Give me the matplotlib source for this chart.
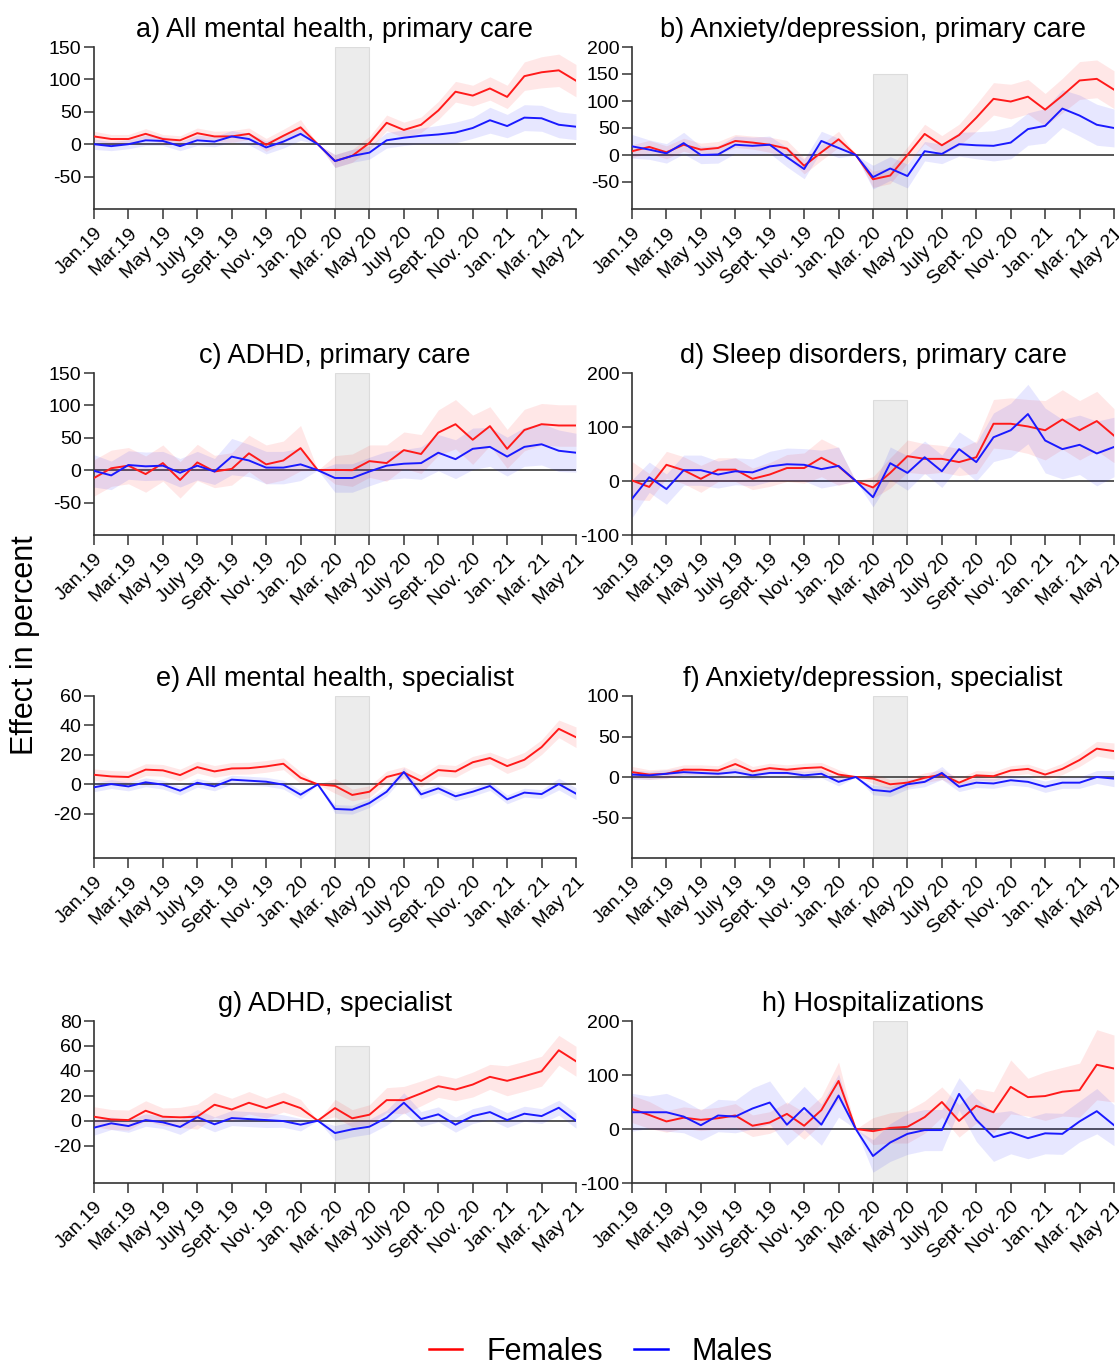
import matplotlib
matplotlib.use("Agg")
import matplotlib.pyplot as plt
import numpy as np
from matplotlib.lines import Line2D

plt.rcParams['font.family'] = ['Liberation Sans', 'DejaVu Sans']
plt.rcParams['axes.unicode_minus'] = False

# months Jan 2019 .. May 2021 (index 0..28)
tick_labels = ["Jan.19", "Mar.19", "May 19", "July 19", "Sept. 19", "Nov. 19",
               "Jan. 20", "Mar. 20", "May 20", "July 20", "Sept. 20", "Nov. 20",
               "Jan. 21", "Mar. 21", "May 21"]

titles = ["a) All mental health, primary care", "b) Anxiety/depression, primary care",
          "c) ADHD, primary care", "d) Sleep disorders, primary care",
          "e) All mental health, specialist", "f) Anxiety/depression, specialist",
          "g) ADHD, specialist", "h) Hospitalizations"]

# a) All mental health, primary care
fem_a = [12, 8, 8, 16, 8, 6, 17, 12, 12, 16, -1, 13, 26, 0, -26, -18, 2, 33, 22, 30, 52, 81, 75, 86, 73, 105, 111, 114, 98]
fem_a_ci = [8, 7, 7, 8, 7, 7, 8, 8, 9, 9, 10, 10, 12, 0, 10, 10, 10, 12, 12, 12, 14, 16, 16, 18, 18, 22, 24, 25, 25]
mal_a = [0, -3, 0, 6, 5, -3, 6, 4, 12, 8, -5, 4, 16, 0, -26, -18, -13, 6, 10, 13, 15, 18, 25, 37, 28, 41, 40, 30, 27]
mal_a_ci = [8, 7, 7, 8, 7, 7, 8, 8, 9, 9, 10, 10, 10, 0, 10, 10, 10, 12, 12, 12, 14, 16, 16, 20, 18, 20, 20, 20, 20]

# b) Anxiety/depression, primary care
fem_b = [7, 15, 5, 19, 10, 13, 26, 23, 19, 12, -20, 5, 29, 0, -45, -38, 0, 39, 18, 37, 69, 104, 99, 108, 84, 110, 138, 141, 121]
fem_b_ci = [12, 12, 12, 12, 12, 12, 12, 12, 14, 15, 15, 15, 15, 0, 15, 15, 15, 18, 18, 20, 25, 30, 32, 32, 30, 32, 35, 35, 35]
mal_b = [16, 10, 3, 22, 0, 1, 19, 17, 19, -4, -26, 26, 13, 0, -41, -25, -39, 7, 2, 20, 18, 17, 23, 48, 54, 86, 73, 56, 50]
mal_b_ci = [22, 18, 18, 20, 16, 16, 16, 16, 16, 18, 18, 18, 18, 0, 22, 22, 22, 18, 18, 22, 25, 28, 30, 30, 32, 35, 38, 38, 35]

# c) ADHD, primary care
fem_c = [-12, 3, 7, -6, 11, -15, 12, -2, 2, 26, 9, 15, 34, 0, 0.5, 0, 14, 11, 31, 25, 58, 71, 47, 68, 33, 62, 71, 69, 69]
fem_c_ci = [28, 28, 28, 28, 28, 28, 28, 25, 25, 28, 30, 30, 35, 0, 22, 25, 25, 28, 28, 30, 35, 38, 38, 30, 30, 32, 32, 32, 32]
mal_c = [-1, -8, 8, 6, 7, -4, 7, -2, 21, 15, 4, 4, 9, 0, -12, -12, -2, 7, 10, 11, 27, 17, 33, 36, 21, 36, 40, 30, 27]
mal_c_ci = [25, 22, 22, 22, 22, 22, 22, 20, 28, 25, 25, 25, 25, 0, 22, 22, 22, 22, 22, 25, 28, 30, 32, 30, 30, 30, 32, 32, 30]

# d) Sleep disorders, primary care
fem_d = [1, -11, 30, 20, 4, 21, 21, 4, 12, 24, 24, 43, 27, 0, -12, 15, 46, 41, 41, 35, 44, 106, 106, 101, 94, 114, 94, 111, 84]
fem_d_ci = [35, 25, 25, 25, 25, 22, 22, 20, 22, 25, 28, 35, 35, 0, 20, 28, 30, 28, 25, 25, 30, 45, 48, 50, 55, 55, 55, 55, 50]
mal_d = [-33, 7, -15, 20, 20, 12, 18, 16, 27, 31, 30, 22, 28, 0, -30, 33, 15, 44, 18, 59, 35, 81, 94, 124, 75, 59, 67, 51, 63]
mal_d_ci = [35, 28, 28, 28, 28, 25, 25, 25, 28, 30, 30, 35, 35, 0, 18, 30, 32, 30, 30, 32, 35, 45, 50, 55, 60, 55, 55, 60, 55]

# e) All mental health, specialist
fem_e = [6.5, 5.4, 5, 10, 9.5, 6.3, 11.7, 8.8, 10.8, 11, 12.2, 14, 4.5, 0, -1, -7.2, -5, 5, 8, 2.3, 9.7, 8.8, 15, 17.9, 12.4, 16.7, 25.3, 37.7, 32]
fem_e_ci = [4, 4, 4, 4, 4, 4, 4, 4, 4, 4, 4, 4, 4, 0, 5, 4, 4, 4, 4, 4, 4, 4, 4, 4, 5, 5, 5, 6, 7]
mal_e = [-2, 0.2, -1.4, 1.4, -0.2, -4.3, 1.1, -1.4, 3.2, 2.5, 1.8, -0.2, -7, 0, -16.7, -17.2, -12.7, -5, 8.4, -6.8, -2.7, -8.1, -5, -1.1, -10.2, -5.6, -6.6, 0.2, -6.3]
mal_e_ci = [3, 3, 3, 3, 3, 3, 3, 3, 3, 3, 3, 3, 3, 0, 3, 3, 3, 3, 3, 3, 3, 3, 3, 3, 3, 3, 3, 4, 4]

# f) Anxiety/depression, specialist
fem_f = [6, 3, 4, 9, 9, 8, 16, 7, 11, 9, 11, 12, 3, 0, -2, -9, -7, -1, 3, -7, 2, 1, 8, 10, 3, 10, 21, 35, 32]
fem_f_ci = [7, 6, 6, 6, 6, 6, 8, 6, 6, 6, 6, 6, 6, 0, 6, 6, 6, 6, 6, 6, 6, 6, 6, 6, 6, 7, 8, 9, 10]
mal_f = [3, 2, 4, 6, 5, 4, 6, 2, 5, 5, 2, 4, -6, 0, -16, -18, -9, -6, 5, -12, -7, -8, -4, -6, -12, -7, -7, 0, -2]
mal_f_ci = [6, 5, 5, 5, 5, 5, 5, 5, 5, 5, 5, 5, 5, 0, 6, 6, 6, 6, 8, 6, 6, 6, 6, 6, 7, 7, 7, 8, 10]

# g) ADHD, specialist
fem_g = [3.2, 1, 0.5, 8, 3.2, 2.7, 3.2, 12.8, 9, 14.4, 10.1, 15, 10.1, 0, 10.1, 1.9, 4.8, 16.5, 16.5, 21.9, 27.7, 25, 29, 35.2, 32, 35.7, 39.7, 56.5, 47.7]
fem_g_ci = [8, 8, 8, 8, 7, 8, 10, 10, 9, 9, 8, 8, 7, 0, 7, 7, 8, 10, 11, 10, 9, 9, 10, 10, 12, 12, 12, 12, 12]
mal_g = [-5.6, -2.1, -4.3, 0.5, -1.3, -5, 2.9, -2.9, 2.1, 1.3, 0.5, -0.3, -3.2, 0, -9.9, -6.9, -4.8, 2.4, 14.4, 1.3, 5.1, -3.2, 3.7, 6.9, 0.5, 5.6, 3.7, 10.4, 0]
mal_g_ci = [6, 5, 5, 5, 5, 6, 6, 6, 6, 6, 6, 5, 5, 0, 6, 6, 6, 6, 8, 6, 6, 6, 6, 6, 6, 6, 6, 6, 6]

# h) Hospitalizations
fem_h = [37, 26, 14, 21, 17, 20, 25, 6, 12, 28, 6, 35, 89, 0, -4, 2, 4, 22, 50, 15, 43, 31, 78, 59, 61, 69, 72, 119, 112]
fem_h_ci = [25, 25, 20, 20, 20, 20, 22, 20, 20, 22, 25, 25, 35, 0, 25, 28, 30, 30, 28, 30, 32, 38, 50, 35, 45, 45, 50, 65, 62]
mal_h = [31, 31, 31, 23, 7, 25, 23, 38, 49, 8, 39, 8, 62, 0, -50, -25, -9, -2, -2, 65, 17, -15, -6, -17, -8, -9, 14, 33, 7]
mal_h_ci = [35, 30, 35, 30, 28, 30, 30, 38, 40, 38, 40, 38, 40, 0, 30, 35, 38, 38, 38, 30, 40, 45, 40, 38, 38, 38, 38, 42, 38]

females = [fem_a, fem_b, fem_c, fem_d, fem_e, fem_f, fem_g, fem_h]
females_ci = [fem_a_ci, fem_b_ci, fem_c_ci, fem_d_ci, fem_e_ci, fem_f_ci, fem_g_ci, fem_h_ci]
males = [mal_a, mal_b, mal_c, mal_d, mal_e, mal_f, mal_g, mal_h]
males_ci = [mal_a_ci, mal_b_ci, mal_c_ci, mal_d_ci, mal_e_ci, mal_f_ci, mal_g_ci, mal_h_ci]

y_limits = [(-100, 150), (-100, 200), (-100, 150), (-100, 200),
            (-50, 60), (-100, 100), (-50, 80), (-100, 200)]
y_ticks = [[-50, 0, 50, 100, 150], [-50, 0, 50, 100, 150, 200], [-50, 0, 50, 100, 150],
           [-100, 0, 100, 200], [-20, 0, 20, 40, 60], [-50, 0, 50, 100],
           [-20, 0, 20, 40, 60, 80], [-100, 0, 100, 200]]
lockdown_top = [150, 150, 150, 150, 60, 100, 60, 200]

W, H = 1119, 1364
fig = plt.figure(figsize=(W / 100, H / 100), dpi=100)

col_left = [94, 632]
ax_w = 482
row_bottom = [209, 535, 858, 1183]
ax_h = 162

months = np.arange(29)
RED = '#ff1a1a'
BLUE = '#1a1aff'

for k in range(8):
    r, c = divmod(k, 2)
    ax = fig.add_axes([col_left[c] / W, 1 - row_bottom[r] / H, ax_w / W, ax_h / H])
    lo_y = y_limits[k][0]

    ax.fill_between([14, 16], lo_y, lockdown_top[k], color='#e0e0e0', alpha=0.6,
                    edgecolor='#cccccc', linewidth=0.8, zorder=1)
    ax.axhline(0, color='#555555', lw=1.4, zorder=2)

    f = np.array(females[k], dtype=float)
    fci = np.array(females_ci[k], dtype=float)
    m = np.array(males[k], dtype=float)
    mci = np.array(males_ci[k], dtype=float)

    ax.fill_between(months, f - fci, f + fci, color=RED, alpha=0.1, lw=0, zorder=3)
    ax.fill_between(months, m - mci, m + mci, color=BLUE, alpha=0.1, lw=0, zorder=3)
    ax.plot(months, f, color=RED, lw=1.4, zorder=4)
    ax.plot(months, m, color=BLUE, lw=1.4, zorder=4)

    ax.set_xlim(0, 28)
    ax.set_ylim(*y_limits[k])
    ax.set_yticks(y_ticks[k])
    ax.set_xticks(np.arange(0, 29, 2))
    ax.set_xticklabels(tick_labels, rotation=45, ha='right', rotation_mode='anchor')
    ax.tick_params(axis='both', labelsize=14, length=7, width=1.2, color='#444444', pad=2)
    ax.tick_params(axis='x', pad=4)
    ax.spines['top'].set_visible(False)
    ax.spines['right'].set_visible(False)
    for s in ['left', 'bottom']:
        ax.spines[s].set_color('#333333')
        ax.spines[s].set_linewidth(1.2)
    ax.set_title(titles[k], fontsize=19.5, pad=7)

fig.text(0.022, 0.527, "Effect in percent", rotation=90, fontsize=22,
         ha='center', va='center')

handles = [Line2D([], [], color='red', lw=1.8), Line2D([], [], color='blue', lw=1.8)]
fig.legend(handles, ["Females", "Males"], loc='lower center', bbox_to_anchor=(0.537, -0.022),
           ncol=2, frameon=False, fontsize=22, handlelength=1.1, handletextpad=0.8,
           columnspacing=1.0)

fig.savefig("out.png", dpi=100)
